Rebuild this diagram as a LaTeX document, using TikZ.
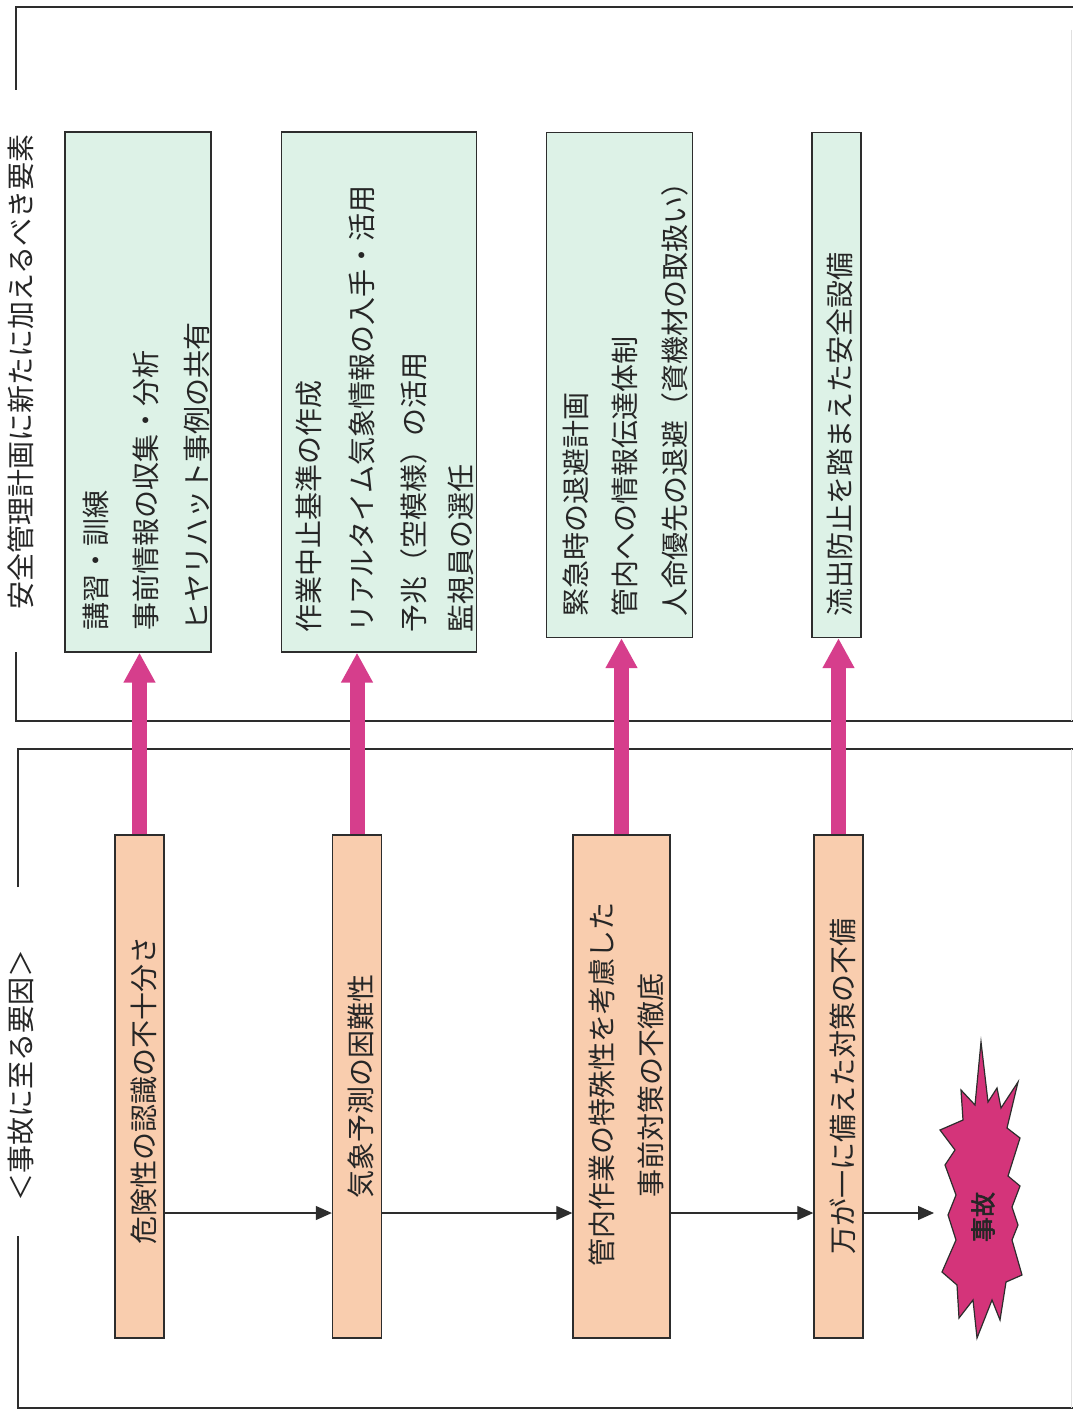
\documentclass[tikz,border=0pt]{standalone}
\usepackage{fontspec}
\setmainfont{Noto Sans CJK JP}
\newfontfamily\jpbold[FakeBold=2.5]{Noto Sans CJK JP}
\usetikzlibrary{arrows.meta}
\definecolor{gfill}{RGB}{221,242,231}
\definecolor{ofill}{RGB}{249,205,174}
\definecolor{pk}{RGB}{214,62,140}
\definecolor{bstc}{RGB}{212,52,122}
\definecolor{ln}{RGB}{45,45,45}
\begin{document}
\begin{tikzpicture}[x=1pt,y=-1pt,
  frame/.style={draw=ln,line width=1.5pt},
  gbox/.style={draw=ln,line width=1.4pt,fill=gfill,inner sep=0pt},
  obox/.style={draw=ln,line width=1.4pt,fill=ofill,inner sep=0pt},
  vt/.style={rotate=90,inner sep=0pt,font=\fontsize{28}{30}\selectfont,text=black!85},
  pinkarrow/.style={draw=pk,line width=15pt,-{Triangle[width=30pt,length=30pt]}},
  flow/.style={draw=ln,line width=1.2pt,-{Triangle[width=14pt,length=16pt]}}
]
\useasboundingbox (0,0) rectangle (1073,1415);
\fill[white] (0,0) rectangle (1073,1415);

% panel frames
\draw[frame] (16,90) -- (16,7) -- (1073,7);
\draw[frame] (16,652) -- (16,721) -- (1073,721);
\draw[frame] (18,887) -- (18,749) -- (1073,749);
\draw[frame] (18,1236) -- (18,1408) -- (1073,1408);
\draw[black!12,line width=1pt] (1071,30) -- (1071,721);
\draw[black!12,line width=1pt] (1071,749) -- (1071,1408);

% titles
\node[vt] (t1) at (21,372) {安全管理計画に新たに加えるべき要素};
\node[vt] (t2) at (21,1075) {＜事故に至る要因＞};

% green boxes
\node[gbox,minimum width=146pt,minimum height=520pt] (g1) at (138,392) {};
\node[gbox,minimum width=195pt,minimum height=520pt] (g2) at (379,392) {};
\node[gbox,minimum width=146pt,minimum height=505pt] (g3) at (619.5,385) {};
\node[gbox,minimum width=49pt,minimum height=505pt] (g4) at (836.5,385) {};

\node[vt,anchor=west] (g1a) at (96,631) {講習・訓練};
\node[vt,anchor=west] (g1b) at (146,631) {事前情報の収集・分析};
\node[vt,anchor=west] (g1c) at (197,631) {ヒヤリハット事例の共有};

\node[vt,anchor=west] (g2a) at (309,633) {作業中止基準の作成};
\node[vt,anchor=west] (g2b) at (362,633) {リアルタイム気象情報の入手・活用};
\node[vt,anchor=west] (g2c) at (414,633) {予兆（空模様）の活用};
\node[vt,anchor=west] (g2d) at (461,633) {監視員の選任};

\node[vt,anchor=west] (g3a) at (576,617) {緊急時の退避計画};
\node[vt,anchor=west] (g3b) at (625,617) {管内への情報伝達体制};
\node[vt,anchor=west] (g3c) at (675,617) {人命優先の退避（資機材の取扱い）};

\node[vt,anchor=west] (g4a) at (840,617) {流出防止を踏まえた安全設備};

% orange boxes
\node[obox,minimum width=49pt,minimum height=503pt] (o1) at (139.5,1086.5) {};
\node[obox,minimum width=49pt,minimum height=503pt] (o2) at (357,1086.5) {};
\node[obox,minimum width=97pt,minimum height=503pt] (o3) at (621.5,1086.5) {};
\node[obox,minimum width=49pt,minimum height=503pt] (o4) at (838.5,1086.5) {};

\node[vt] (o1t) at (144,1090) {危険性の認識の不十分さ};
\node[vt] (o2t) at (361,1086) {気象予測の困難性};
\node[vt] (o3a) at (602,1084) {管内作業の特殊性を考慮した};
\node[vt] (o3b) at (651,1085) {事前対策の不徹底};
\node[vt] (o4t) at (843,1086) {万が一に備えた対策の不備};

% pink arrows
\draw[pinkarrow] (o1.north) -- (o1.north |- g1.south);
\draw[pinkarrow] (o2.north) -- (o2.north |- g2.south);
\draw[pinkarrow] (o3.north) -- (o3.north |- g3.south);
\draw[pinkarrow] (o4.north) -- (o4.north |- g4.south);

% accident burst
\draw[fill=bstc,draw=ln,line width=1.2pt,line join=miter]
  (981,1042) -- (988,1102) -- (997,1088) -- (1001,1108) -- (1018,1082)
  -- (1007,1128) -- (1020,1138) -- (1008,1176) -- (1020,1186) -- (1012,1207)
  -- (1018,1225) -- (1012,1240) -- (1022,1275) -- (1006,1282) -- (1000,1320)
  -- (992,1300) -- (977,1338) -- (973,1300) -- (959,1318) -- (957,1285)
  -- (942,1272) -- (956,1240) -- (948,1215) -- (956,1195) -- (945,1165)
  -- (955,1150) -- (940,1130) -- (963,1120) -- (961,1090) -- (975,1105) -- cycle;
\node[rotate=90,inner sep=0pt,font=\jpbold\fontsize{25}{26}\selectfont,text=black!85] (acc) at (983,1217) {事故};
\coordinate (bl) at (934,1213);

% flow arrows
\coordinate (fy) at (0,1213);
\draw[flow] (o1.east |- fy) -- (o2.west |- fy);
\draw[flow] (o2.east |- fy) -- (o3.west |- fy);
\draw[flow] (o3.east |- fy) -- (o4.west |- fy);
\draw[flow] (o4.east |- fy) -- (bl);
\end{tikzpicture}
\end{document}
